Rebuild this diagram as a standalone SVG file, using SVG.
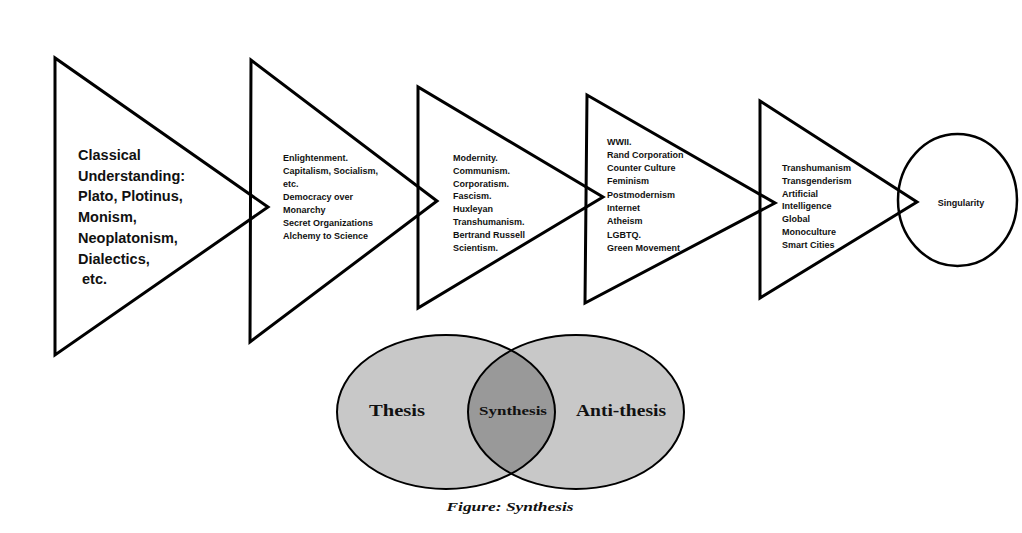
<svg xmlns="http://www.w3.org/2000/svg" width="1022" height="533" viewBox="0 0 1022 533">
<style>
.tri{fill:none;stroke:#000;stroke-width:3;stroke-linejoin:miter}
.big{font-family:"Liberation Sans",Arial,sans-serif;font-weight:bold;font-size:14.5px;fill:#111}
.sm{font-family:"Liberation Sans",Arial,sans-serif;font-weight:bold;font-size:9px;fill:#111}
.venn{stroke:#000;stroke-width:2}
.serif{font-family:"Liberation Serif","Times New Roman",serif;font-weight:bold;fill:#111}
</style>
<rect width="1022" height="533" fill="#fff"/>
<defs>
<clipPath id="clipL"><ellipse cx="446" cy="412" rx="109" ry="77"/></clipPath>
</defs>
<g id="venn">
<ellipse cx="446" cy="412" rx="109" ry="77" fill="#c8c8c8"/>
<ellipse cx="576" cy="412" rx="108" ry="77" fill="#c8c8c8"/>
<ellipse cx="576" cy="412" rx="108" ry="77" fill="#999" clip-path="url(#clipL)"/>
<ellipse class="venn" cx="446" cy="412" rx="109" ry="77" fill="none"/>
<ellipse class="venn" cx="576" cy="412" rx="108" ry="77" fill="none"/>
<text class="serif" x="397" y="416" font-size="16" text-anchor="middle" textLength="56" lengthAdjust="spacingAndGlyphs">Thesis</text>
<text class="serif" x="513" y="415" font-size="12" text-anchor="middle" textLength="68" lengthAdjust="spacingAndGlyphs">Synthesis</text>
<text class="serif" x="621" y="416" font-size="16" text-anchor="middle" textLength="90" lengthAdjust="spacingAndGlyphs">Anti-thesis</text>
<text class="serif" x="510" y="511" font-size="12" font-style="italic" text-anchor="middle" textLength="127" lengthAdjust="spacingAndGlyphs">Figure: Synthesis</text>
</g>
<g id="node-classical">
<polygon class="tri" points="55,58 55,355 268,207"/>
<text class="big" x="78"><tspan x="78" y="160">Classical</tspan><tspan x="78" y="180.7">Understanding:</tspan><tspan x="78" y="201.4">Plato, Plotinus,</tspan><tspan x="78" y="222.1">Monism,</tspan><tspan x="78" y="242.8">Neoplatonism,</tspan><tspan x="78" y="263.5">Dialectics,</tspan><tspan x="82" y="284.2">etc.</tspan></text>
</g>
<g id="node-enlightenment">
<polygon class="tri" points="251,60 250,342 437,201"/>
<text class="sm"><tspan x="283" y="161">Enlightenment.</tspan><tspan x="283" y="174">Capitalism, Socialism,</tspan><tspan x="283" y="187">etc.</tspan><tspan x="283" y="200">Democracy over</tspan><tspan x="283" y="212.8">Monarchy</tspan><tspan x="283" y="225.6">Secret Organizations</tspan><tspan x="283" y="238.5">Alchemy to Science</tspan></text>
</g>
<g id="node-modernity">
<polygon class="tri" points="418,87 418,308 603,197"/>
<text class="sm"><tspan x="453" y="161">Modernity.</tspan><tspan x="453" y="173.8">Communism.</tspan><tspan x="453" y="186.6">Corporatism.</tspan><tspan x="453" y="199.4">Fascism.</tspan><tspan x="453" y="212.2">Huxleyan</tspan><tspan x="453" y="225">Transhumanism.</tspan><tspan x="453" y="237.8">Bertrand Russell</tspan><tspan x="453" y="250.6">Scientism.</tspan></text>
</g>
<g id="node-wwii">
<polygon class="tri" points="587,95 585,303 775,203"/>
<text class="sm"><tspan x="607" y="144.5">WWII.</tspan><tspan x="607" y="157.8">Rand Corporation</tspan><tspan x="607" y="171">Counter Culture</tspan><tspan x="607" y="184.3">Feminism</tspan><tspan x="607" y="197.6">Postmodernism</tspan><tspan x="607" y="211">Internet</tspan><tspan x="607" y="224.2">Atheism</tspan><tspan x="607" y="237.5">LGBTQ.</tspan><tspan x="607" y="250.8">Green Movement</tspan></text>
</g>
<g id="node-transhumanism">
<polygon class="tri" points="760,101 760,298 917,202"/>
<text class="sm"><tspan x="782" y="171">Transhumanism</tspan><tspan x="782" y="183.8">Transgenderism</tspan><tspan x="782" y="196.6">Artificial</tspan><tspan x="782" y="209.4">Intelligence</tspan><tspan x="782" y="222.2">Global</tspan><tspan x="782" y="235">Monoculture</tspan><tspan x="782" y="247.8">Smart Cities</tspan></text>
</g>
<g id="node-singularity">
<ellipse cx="957.5" cy="200" rx="59.5" ry="66" fill="none" stroke="#000" stroke-width="2.5"/>
<text class="sm" x="961" y="206" text-anchor="middle">Singularity</text>
</g>
<g id="connectors"/>
</svg>
